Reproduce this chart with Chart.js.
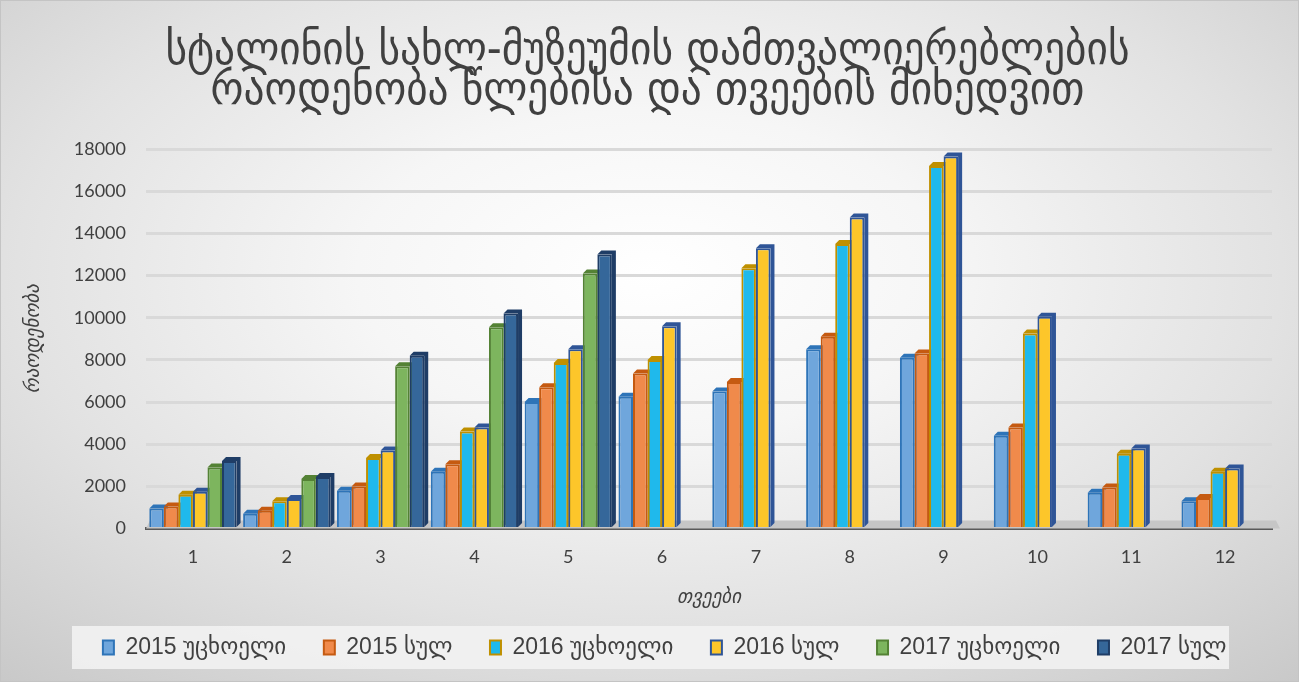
<!DOCTYPE html>
<html>
<head>
<meta charset="utf-8">
<script src="https://cdn.jsdelivr.net/npm/chart.js@4"></script>
<style>
  html, body { margin: 0; padding: 0; }
  #wrap {
    position: relative;
    width: 1299px;
    height: 682px;
    box-sizing: border-box;
    border: 1px solid #c4c4c4;
    background: radial-gradient(ellipse 75% 80% at 50% 40%, #ffffff 0%, #f6f6f6 30%, #e2e2e2 65%, #c9c9c9 100%);
  }
</style>
</head>
<body>
<div id="wrap"><canvas id="chart" width="1297" height="680"></canvas></div>
<script>
// months
const months = ["1", "2", "3", "4", "5", "6", "7", "8", "9", "10", "11", "12"];

// visitors
const foreign2015 = [950, 700, 1800, 2700, 6000, 6250, 6500, 8500, 8100, 4400, 1700, 1300];
const total2015   = [1050, 850, 2000, 3050, 6700, 7350, 6950, 9100, 8300, 4800, 1950, 1450];
const foreign2016 = [1600, 1300, 3350, 4600, 7850, 8000, 12350, 13500, 17200, 9250, 3550, 2700];
const total2016   = [1750, 1400, 3700, 4800, 8500, 9600, 13300, 14750, 17650, 10050, 3800, 2850];
const foreign2017 = [2900, 2350, 7700, 9550, 12100, null, null, null, null, null, null, null];
const total2017   = [3200, 2450, 8200, 10200, 13000, null, null, null, null, null, null, null];

const yTicks = [0, 2000, 4000, 6000, 8000, 10000, 12000, 14000, 16000, 18000];

const seriesNames = ["2015 უცხოელი", "2015 სულ", "2016 უცხოელი", "2016 სულ", "2017 უცხოელი", "2017 სულ"];
const seriesData = [foreign2015, total2015, foreign2016, total2016, foreign2017, total2017];
const fills   = ["#6fa6dc", "#f08a4b", "#1fb9ec", "#fdc62a", "#7db55e", "#35679a"];
const borders = ["#2e74b8", "#c55a11", "#bf9000", "#2f5597", "#548235", "#1f3d66"];

const datasets = seriesNames.map((name, i) => ({
  label: name,
  data: seriesData[i],
  backgroundColor: fills[i],
  borderColor: borders[i],
  borderWidth: 2,
  categoryPercentage: 0.93,
  barPercentage: 1.0
}));

// fake 3D: darker block behind each bar, offset up-right, plus a floor strip
const depth3d = {
  id: "depth3d",
  beforeDatasetsDraw(chart) {
    const ctx = chart.ctx;
    const d = 4;
    const area = chart.chartArea;
    const base = chart.scales.y.getPixelForValue(0);
    ctx.save();
    ctx.fillStyle = "#c6c6c6";
    ctx.beginPath();
    ctx.moveTo(area.left, base);
    ctx.lineTo(area.left + d, base - 2 * d);
    ctx.lineTo(area.right + d, base - 2 * d);
    ctx.lineTo(area.right + 2 * d, base);
    ctx.closePath();
    ctx.fill();
    chart.data.datasets.forEach((ds, i) => {
      const meta = chart.getDatasetMeta(i);
      meta.data.forEach((bar, j) => {
        if (ds.data[j] == null) return;
        const p = bar.getProps(["x", "y", "base", "width"], true);
        const l = p.x - p.width / 2, r = p.x + p.width / 2;
        ctx.fillStyle = borders[i];
        ctx.beginPath();
        ctx.moveTo(l, p.y);
        ctx.lineTo(l + d, p.y - d);
        ctx.lineTo(r + d, p.y - d);
        ctx.lineTo(r + d, p.base - d);
        ctx.lineTo(r, p.base);
        ctx.lineTo(r, p.y);
        ctx.closePath();
        ctx.fill();
      });
    });
    ctx.restore();
  }
};

// light box behind the legend; nudge the legend a little right like the original
const legendBox = {
  id: "legendBox",
  afterLayout(chart) {
    if (chart.legend) chart.legend.left += 60;
  },
  beforeDraw(chart) {
    const lg = chart.legend;
    if (!lg) return;
    const ctx = chart.ctx;
    ctx.save();
    ctx.fillStyle = "rgba(242,242,242,0.9)";
    ctx.fillRect(71, lg.top + 2, chart.width - 140, lg.height - 2);
    ctx.restore();
  }
};

new Chart(document.getElementById("chart").getContext("2d"), {
  type: "bar",
  data: { labels: months, datasets },
  plugins: [legendBox, depth3d],
  options: {
    responsive: false,
    animation: false,
    layout: { padding: { left: 22, right: 26, top: 8, bottom: 12 } },
    plugins: {
      title: {
        display: true,
        text: ["სტალინის სახლ-მუზეუმის დამთვალიერებლების", "რაოდენობა წლებისა და თვეების მიხედვით"],
        color: "#404040",
        font: { family: "'DejaVu Sans Condensed', 'DejaVu Sans'", size: 46, weight: "normal", lineHeight: 0.87 },
        padding: { top: 23, bottom: 37 }
      },
      legend: {
        position: "bottom",
        labels: {
          color: "#404040",
          boxWidth: 11,
          boxHeight: 14,
          padding: 12,
          font: { family: "'Liberation Sans', 'DejaVu Sans'", size: 23 },
          generateLabels: chart => Chart.defaults.plugins.legend.labels.generateLabels(chart)
            .map(item => Object.assign(item, { text: item.text + "\u00a0\u00a0\u00a0\u00a0" }))
        }
      },
      tooltip: { enabled: false }
    },
    scales: {
      x: {
        grid: { display: false, drawTicks: false },
        border: { color: "#595959", width: 3 },
        ticks: { color: "#404040", padding: 18, font: { family: "Lato", size: 18 } },
        title: {
          display: true,
          text: "თვეები",
          color: "#404040",
          padding: { top: 0, bottom: 15 },
          font: { family: "'DejaVu Sans'", size: 19, style: "italic" }
        }
      },
      y: {
        min: 0,
        max: 18000,
        afterBuildTicks: axis => { axis.ticks = yTicks.map(v => ({ value: v })); },
        grid: { color: "#d9d9d9", lineWidth: 3, drawTicks: false },
        border: { display: false },
        ticks: {
          color: "#404040",
          padding: 20,
          font: { family: "Lato", size: 18 },
          callback: v => String(v)
        },
        title: {
          display: true,
          text: "რაოდენობა",
          color: "#404040",
          padding: { top: 0, bottom: 8 },
          font: { family: "'DejaVu Sans'", size: 19, style: "italic" }
        }
      }
    }
  }
});
</script>
</body>
</html>
